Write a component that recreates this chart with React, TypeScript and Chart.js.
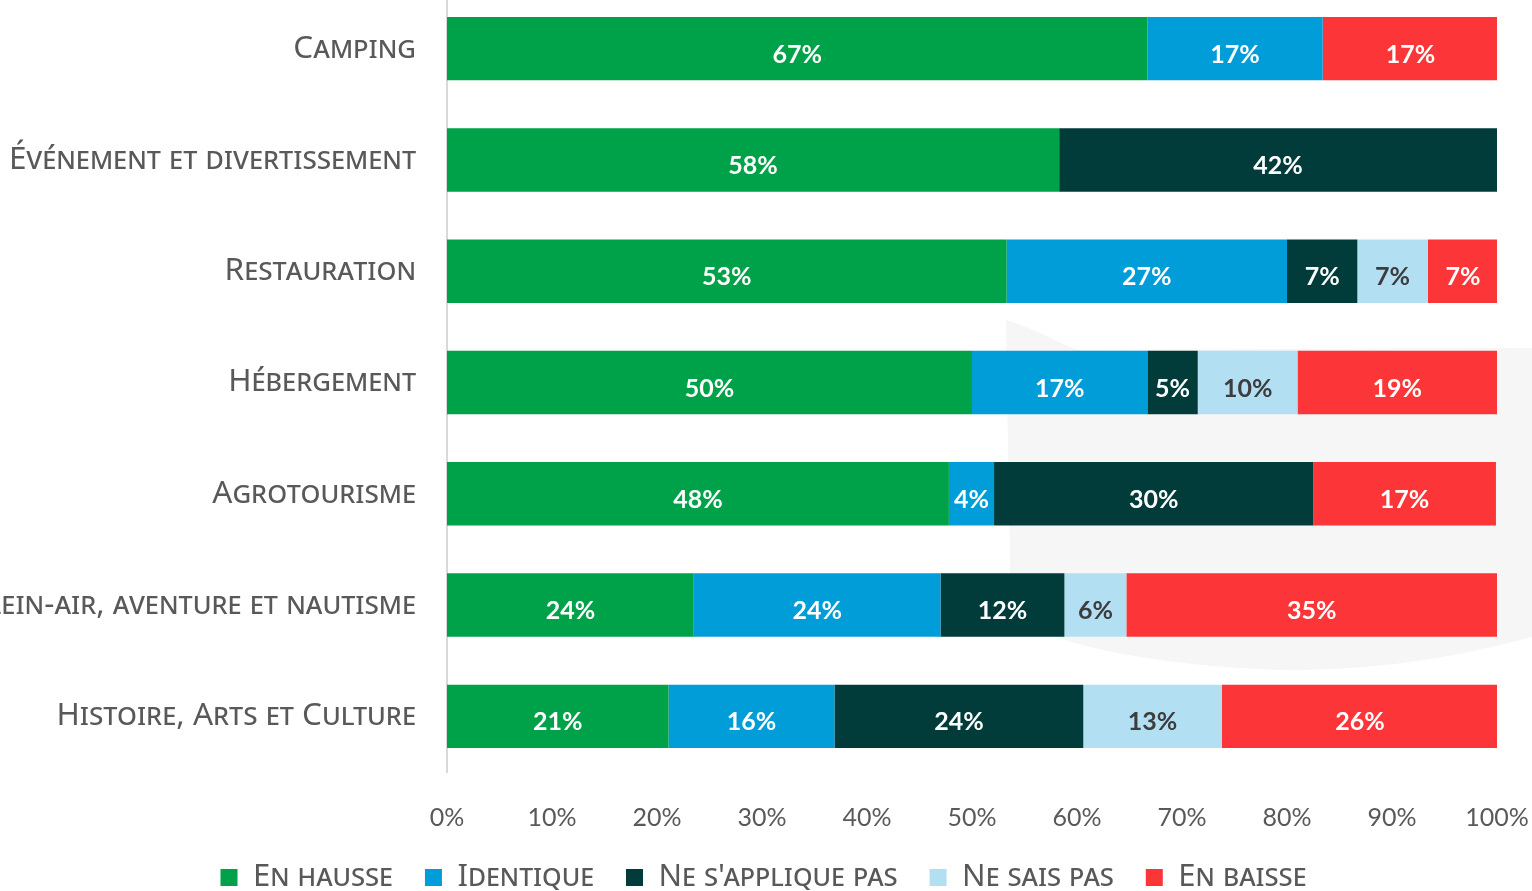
import React, { useEffect, useRef } from "react";
import { Chart, registerables } from "chart.js";

Chart.register(...registerables);

const categories = [
  "Camping",
  "Événement et divertissement",
  "Restauration",
  "Hébergement",
  "Agrotourisme",
  "Plein-air, aventure et nautisme",
  "Histoire, Arts et Culture",
];

const seriesNames = ["En hausse", "Identique", "Ne s'applique pas", "Ne sais pas", "En baisse"];

const enHausse = [66.7, 58.3, 53.3, 50.0, 47.8, 23.5, 21.1];
const identique = [16.7, 0, 26.7, 16.7, 4.3, 23.5, 15.8];
const neSappliquePas = [0, 41.7, 6.7, 4.8, 30.4, 11.8, 23.7];
const neSaisPas = [0, 0, 6.7, 9.5, 0, 5.9, 13.2];
const enBaisse = [16.7, 0, 6.7, 19.0, 17.4, 35.3, 26.3];

const xTicks = [0, 10, 20, 30, 40, 50, 60, 70, 80, 90, 100];

const colors = ["#00A249", "#009DD9", "#013C3B", "#B3DFF3", "#FC3638"];
const labelColors = ["#ffffff", "#ffffff", "#ffffff", "#3d3d3d", "#ffffff"];

const TOP_SHIFT = 7;
const LEGEND_PAD = 32;
const CANVAS_H = 910;
const LEGEND_SHIFT = 15;

const watermarkPlugin = {
  id: "watermark",
  afterLayout(chart: any) {
    if (chart.legend) {
      chart.legend.left += LEGEND_SHIFT;
      chart.legend.right += LEGEND_SHIFT;
    }
  },
  beforeDatasetsDraw(chart: any) {
    const ctx = chart.ctx;
    const o = TOP_SHIFT;
    ctx.save();
    ctx.fillStyle = "#f6f6f6";
    ctx.beginPath();
    ctx.moveTo(1006, 320 + o);
    ctx.bezierCurveTo(1040, 330 + o, 1060, 345 + o, 1080, 350 + o);
    ctx.lineTo(1532, 348 + o);
    ctx.lineTo(1532, 637 + o);
    ctx.bezierCurveTo(1440, 662 + o, 1360, 670 + o, 1290, 670 + o);
    ctx.bezierCurveTo(1180, 668 + o, 1080, 650 + o, 1040, 630 + o);
    ctx.bezierCurveTo(1015, 615 + o, 1010, 590 + o, 1010, 567 + o);
    ctx.closePath();
    ctx.fill();
    ctx.restore();
  },
};

const dataLabelPlugin = {
  id: "barLabels",
  afterDatasetsDraw(chart: any) {
    const ctx = chart.ctx;
    ctx.save();
    ctx.font = "700 25px Lato, 'Open Sans', sans-serif";
    ctx.textAlign = "center";
    ctx.textBaseline = "middle";
    chart.data.datasets.forEach((ds: any, di: number) => {
      const meta = chart.getDatasetMeta(di);
      if (meta.hidden) return;
      meta.data.forEach((el: any, i: number) => {
        const v = ds.data[i];
        if (!v) return;
        const { x, y, base } = el.getProps(["x", "y", "base"], true);
        ctx.fillStyle = labelColors[di];
        ctx.fillText(Math.round(v) + "%", (x + base) / 2, y + 6);
      });
    });
    ctx.restore();
  },
};

export default function App() {
  const ref = useRef<HTMLCanvasElement | null>(null);
  useEffect(() => {
    if (!ref.current) return;
    const all = [enHausse, identique, neSappliquePas, neSaisPas, enBaisse];
    const chart = new Chart(ref.current, {
      type: "bar",
      data: {
        labels: categories,
        datasets: all.map((d, i) => ({
          label: seriesNames[i],
          data: d,
          backgroundColor: colors[i],
          borderWidth: 0,
          barPercentage: 1,
          categoryPercentage: 0.57,
        })),
      },
      options: {
        indexAxis: "y",
        animation: false,
        responsive: false,
        maintainAspectRatio: false,
        layout: { padding: { top: 0, right: 35, bottom: 0, left: 0 } },
        plugins: {
          legend: {
            position: "bottom",
            labels: {
              boxWidth: 17,
              boxHeight: 17,
              padding: LEGEND_PAD,
              color: "#595959",
              font: { family: "'Noto Sans', sans-serif", size: 31, weight: "small-caps 400" as any },
            },
          },
          tooltip: { enabled: false },
        },
        scales: {
          x: {
            stacked: true,
            min: 0,
            max: 100,
            afterBuildTicks(axis: any) {
              axis.ticks = xTicks.map((v) => ({ value: v }));
            },
            afterFit(axis: any) {
              axis.height = CANVAS_H - LEGEND_PAD - 41 - 779;
              axis.paddingLeft = 0;
              axis.paddingRight = 0;
            },
            grid: { display: false, drawTicks: false },
            border: { display: false },
            ticks: {
              padding: 31,
              color: "#595959",
              font: { family: "Lato, sans-serif", size: 25 },
              callback: (v: any) => v + "%",
            },
          },
          y: {
            stacked: true,
            afterFit(axis: any) {
              axis.width = 447;
              axis.paddingTop = 0;
              axis.paddingBottom = 0;
            },
            grid: { display: false, drawTicks: false },
            border: { display: true, color: "#d9d9d9", width: 2 },
            ticks: {
              padding: 31,
              color: "#595959",
              font: { family: "'Noto Sans', sans-serif", size: 31.5, weight: "small-caps 400" as any },
            },
          },
        },
      },
      plugins: [watermarkPlugin, dataLabelPlugin],
    });
    return () => chart.destroy();
  }, []);

  return (
    <div
      style={{
        position: "fixed",
        left: 0,
        top: 0,
        width: 1532,
        height: 891,
        overflow: "hidden",
        background: "#ffffff",
      }}
    >
      <canvas
        ref={ref}
        width={1532}
        height={CANVAS_H}
        style={{ position: "absolute", left: 0, top: -TOP_SHIFT, width: 1532, height: CANVAS_H }}
      />
    </div>
  );
}
